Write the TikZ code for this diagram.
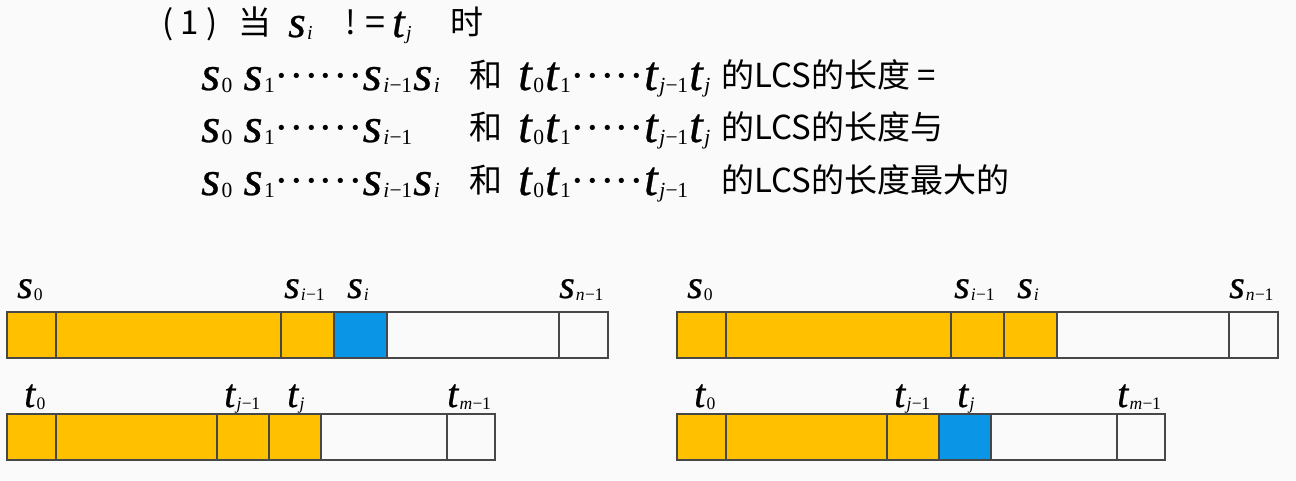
\documentclass[tikz,border=0pt]{standalone}
\usepackage{fontspec}
\usepackage{graphicx}
\setmainfont{Liberation Serif}
\newfontfamily\vfont[FakeBold=0.6]{Liberation Serif}
\newfontfamily\cjk{Noto Sans CJK SC}
\usetikzlibrary{positioning}
\definecolor{cOrange}{HTML}{FFC000}
\definecolor{cBlue}{HTML}{0A95E6}
\definecolor{cLine}{HTML}{474747}
\definecolor{cPaper}{HTML}{FAFAFA}
\newcommand{\sub}[1]{\raisebox{-0.06em}{\scalebox{0.44}{#1}}}
\newcommand{\vs}[2]{{\vfont\itshape #1}\kern0.03em\sub{#2}}
\newcommand{\mone}[1]{\textit{#1}\kern0.02em−\kern-0.02em1}
\newcommand{\dotrun}[1]{{\fontsize{44}{44}\selectfont#1}}
\tikzset{
  cell/.style={draw=cLine, line width=1.3pt, fill=cPaper,
    minimum width=#1, minimum height=46pt, inner sep=0pt, outer sep=0pt},
  ocell/.style={cell=#1, fill=cOrange},
  bcell/.style={cell=#1, fill=cBlue},
  lbl/.style={anchor=base west, inner sep=0pt, font=\fontsize{40}{40}\selectfont},
  mth/.style={anchor=base west, inner sep=0pt, font=\fontsize{49}{49}\selectfont},
  zh/.style={anchor=base west, inner sep=0pt, font=\cjk\fontsize{33}{33}\selectfont},
}
\begin{document}
\begin{tikzpicture}[x=1pt, y=-1pt]
  \useasboundingbox[fill=cPaper] (0,0) rectangle (1296,480);

  % Heading line
  \node[zh] (hnum) at (162,34) {( 1 )};
  \node[zh] (hdang) at (238,34) {当};
  \node[lbl, font=\fontsize{45}{45}\selectfont] (hsi) at (288,37) {\vs{s}{\textit{i}}};
  \node[zh] (hneq) at (345,34) {!};
  \node[zh, font=\cjk\fontsize{36}{36}\selectfont] (hneq2) at (365,35) {=};
  \node[lbl, font=\fontsize{45}{45}\selectfont] (htj) at (392,37) {\vs{t}{\textit{j}}};
  \node[zh] (hshi) at (450,34) {时};

  % Line 1
  \node[mth] (as) at (201,90) {\vs{s}{0}\kern11pt\vs{s}{1}\dotrun{······}\vs{s}{\mone{i}}\kern1pt\vs{s}{\textit{i}}};
  \node[zh] (ahe) at (469,87) {和};
  \node[mth] (at) at (518,90) {\vs{t}{0}\kern1pt\vs{t}{1}\dotrun{·····}\vs{t}{\mone{j}}\kern1pt\vs{t}{\textit{j}}};
  \node[zh] (atxt) at (721,87) {的LCS的长度 =};

  % Line 2
  \node[mth] (bs) at (201,142) {\vs{s}{0}\kern11pt\vs{s}{1}\dotrun{······}\vs{s}{\mone{i}}};
  \node[zh] (bhe) at (469,139) {和};
  \node[mth] (bt) at (518,142) {\vs{t}{0}\kern1pt\vs{t}{1}\dotrun{·····}\vs{t}{\mone{j}}\kern1pt\vs{t}{\textit{j}}};
  \node[zh] (btxt) at (721,139) {的LCS的长度与};

  % Line 3
  \node[mth] (cs) at (201,195) {\vs{s}{0}\kern11pt\vs{s}{1}\dotrun{······}\vs{s}{\mone{i}}\kern1pt\vs{s}{\textit{i}}};
  \node[zh] (che) at (469,192) {和};
  \node[mth] (ct) at (518,195) {\vs{t}{0}\kern1pt\vs{t}{1}\dotrun{·····}\vs{t}{\mone{j}}};
  \node[zh] (ctxt) at (721,192) {的LCS的长度最大的};

  % Left panel: string s
  \node[ocell=49pt, anchor=north west] (ls0) at (7,312) {};
  \node[ocell=225pt, right=0pt of ls0] (ls1) {};
  \node[ocell=53pt, right=0pt of ls1] (ls2) {};
  \node[bcell=53pt, right=0pt of ls2] (ls3) {};
  \node[cell=172pt, right=0pt of ls3] (ls4) {};
  \node[cell=49pt, right=0pt of ls4] (ls5) {};
  \node[lbl] (lls0) at (17,298) {\vs{s}{0}};
  \node[lbl] (lls2) at (284,298) {\vs{s}{\mone{i}}};
  \node[lbl] (lls3) at (347,298) {\vs{s}{\textit{i}}};
  \node[lbl] (lls5) at (559,298) {\vs{s}{\mone{n}}};

  % Left panel: string t
  \node[ocell=49pt, anchor=north west] (lt0) at (7,414) {};
  \node[ocell=161pt, right=0pt of lt0] (lt1) {};
  \node[ocell=52pt, right=0pt of lt1] (lt2) {};
  \node[ocell=52pt, right=0pt of lt2] (lt3) {};
  \node[cell=126pt, right=0pt of lt3] (lt4) {};
  \node[cell=48pt, right=0pt of lt4] (lt5) {};
  \node[lbl] (llt0) at (24,407) {\vs{t}{0}};
  \node[lbl] (llt2) at (224,407) {\vs{t}{\mone{j}}};
  \node[lbl] (llt3) at (287,407) {\vs{t}{\textit{j}}};
  \node[lbl] (llt5) at (447,407) {\vs{t}{\mone{m}}};

  % Right panel: string s
  \node[ocell=49pt, anchor=north west] (rs0) at (677,312) {};
  \node[ocell=225pt, right=0pt of rs0] (rs1) {};
  \node[ocell=53pt, right=0pt of rs1] (rs2) {};
  \node[ocell=53pt, right=0pt of rs2] (rs3) {};
  \node[cell=172pt, right=0pt of rs3] (rs4) {};
  \node[cell=49pt, right=0pt of rs4] (rs5) {};
  \node[lbl] (lrs0) at (687,298) {\vs{s}{0}};
  \node[lbl] (lrs2) at (954,298) {\vs{s}{\mone{i}}};
  \node[lbl] (lrs3) at (1017,298) {\vs{s}{\textit{i}}};
  \node[lbl] (lrs5) at (1229,298) {\vs{s}{\mone{n}}};

  % Right panel: string t
  \node[ocell=49pt, anchor=north west] (rt0) at (677,414) {};
  \node[ocell=161pt, right=0pt of rt0] (rt1) {};
  \node[ocell=52pt, right=0pt of rt1] (rt2) {};
  \node[bcell=52pt, right=0pt of rt2] (rt3) {};
  \node[cell=126pt, right=0pt of rt3] (rt4) {};
  \node[cell=48pt, right=0pt of rt4] (rt5) {};
  \node[lbl] (lrt0) at (694,407) {\vs{t}{0}};
  \node[lbl] (lrt2) at (894,407) {\vs{t}{\mone{j}}};
  \node[lbl] (lrt3) at (957,407) {\vs{t}{\textit{j}}};
  \node[lbl] (lrt5) at (1117,407) {\vs{t}{\mone{m}}};

\end{tikzpicture}
\end{document}
